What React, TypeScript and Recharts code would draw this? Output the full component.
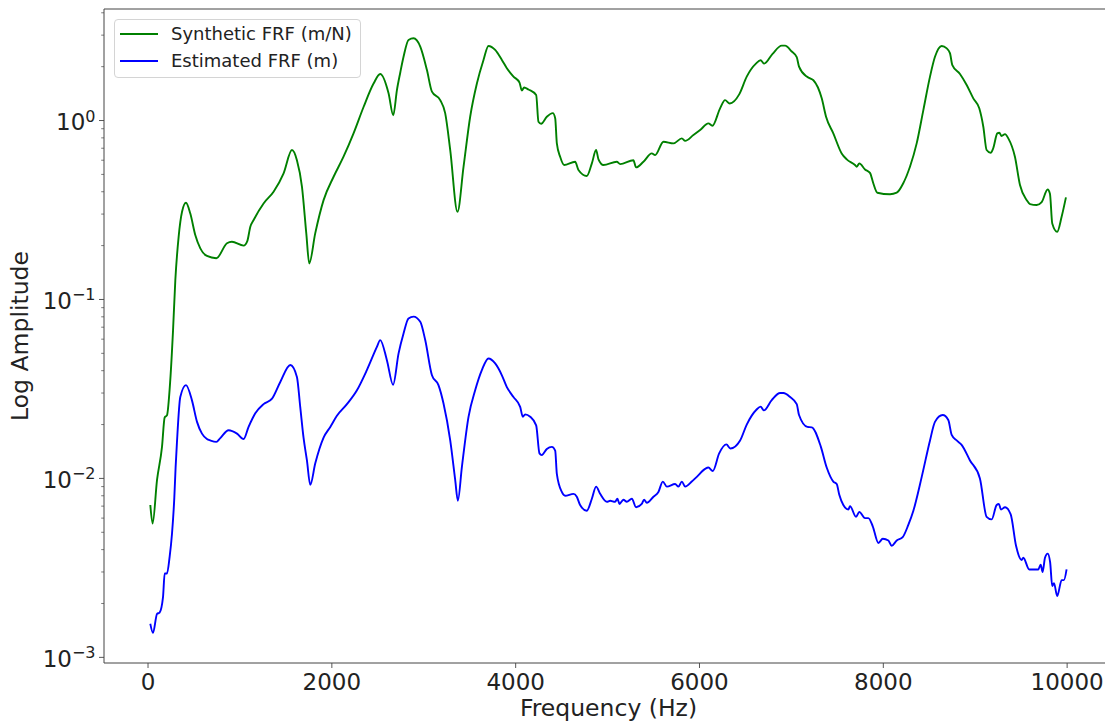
import React from "react";
import { LineChart, Line, XAxis, YAxis, Legend, ReferenceLine } from "recharts";

const FONT = "DejaVu Sans, sans-serif";
const INK = "#222";
const SPINE = "#444";

// Synthetic FRF (m/N)
const synthFreq = [
  25, 50, 98, 152, 181, 206, 242, 272, 297, 333, 370, 413, 460, 514, 569, 641, 743, 859, 913, 1040,
  1080, 1113, 1149, 1257, 1366, 1475, 1566, 1620, 1675, 1722, 1754, 1819, 1910, 2019, 2127, 2236, 2345, 2454, 2526, 2617,
  2668, 2708, 2744, 2780, 2834, 2889, 2962, 3034, 3089, 3179, 3233, 3288, 3367, 3433, 3505, 3578, 3650, 3704, 3777, 3850,
  3904, 3976, 4042, 4067, 4092, 4140, 4223, 4248, 4277, 4339, 4404, 4430, 4448, 4484, 4527, 4647, 4683, 4774, 4829, 4875,
  4901, 4955, 5100, 5137, 5281, 5310, 5390, 5481, 5517, 5608, 5717, 5808, 5844, 5934, 6007, 6097, 6140, 6224, 6278, 6329,
  6432, 6514, 6614, 6665, 6704, 6795, 6895, 6931, 7004, 7058, 7083, 7167, 7203, 7239, 7330, 7377, 7456, 7547, 7602, 7692,
  7711, 7739, 7801, 7855, 7891, 7935, 8073, 8146, 8217, 8290, 8363, 8435, 8508, 8562, 8635, 8690, 8725, 8751, 8834, 8907,
  8979, 9044, 9088, 9124, 9168, 9196, 9240, 9262, 9287, 9324, 9360, 9432, 9487, 9560, 9596, 9668, 9723, 9788, 9813, 9838,
  9892, 9940, 9987,
];
const synthAmp = [
  0.0071, 0.0056, 0.0098, 0.015, 0.0219, 0.0225, 0.0354, 0.067, 0.128, 0.224, 0.309, 0.347, 0.302, 0.229, 0.193, 0.175, 0.17, 0.206, 0.21, 0.2,
  0.212, 0.255, 0.278, 0.344, 0.4, 0.507, 0.684, 0.6, 0.426, 0.234, 0.159, 0.234, 0.359, 0.485, 0.628, 0.848, 1.19, 1.61, 1.82, 1.42,
  1.07, 1.48, 1.85, 2.27, 2.82, 2.88, 2.59, 1.92, 1.45, 1.3, 1.1, 0.684, 0.309, 0.552, 1.05, 1.61, 2.18, 2.61, 2.48, 2.18,
  1.96, 1.76, 1.63, 1.47, 1.53, 1.49, 1.39, 0.985, 0.96, 1.05, 1.1, 1.03, 0.745, 0.627, 0.564, 0.588, 0.529, 0.49, 0.576, 0.684,
  0.607, 0.564, 0.588, 0.571, 0.6, 0.547, 0.588, 0.655, 0.641, 0.761, 0.745, 0.795, 0.77, 0.83, 0.885, 0.964, 0.935, 1.17, 1.3, 1.245,
  1.4, 1.76, 2.08, 2.17, 2.08, 2.36, 2.62, 2.62, 2.43, 2.26, 2.0, 1.76, 1.72, 1.68, 1.33, 1.05, 0.848, 0.655, 0.607, 0.564,
  0.552, 0.576, 0.533, 0.51, 0.446, 0.395, 0.387, 0.395, 0.446, 0.552, 0.745, 1.14, 1.76, 2.27, 2.61, 2.53, 2.38, 2.04, 1.82, 1.58,
  1.33, 1.17, 0.923, 0.684, 0.66, 0.7, 0.848, 0.855, 0.82, 0.84, 0.795, 0.627, 0.436, 0.359, 0.341, 0.337, 0.35, 0.412, 0.39, 0.266,
  0.239, 0.29, 0.372,
];

// Estimated FRF (m)
const estFreq = [
  25, 54, 98, 126, 163, 181, 206, 235, 261, 286, 300, 315, 351, 413, 478, 533, 587, 641, 678, 743,
  786, 877, 968, 1040, 1094, 1167, 1257, 1349, 1439, 1548, 1620, 1656, 1692, 1729, 1765, 1819, 1910, 1983, 2055, 2164,
  2273, 2381, 2490, 2526, 2599, 2666, 2726, 2780, 2834, 2889, 2962, 3016, 3089, 3160, 3215, 3288, 3342, 3371, 3415, 3487,
  3560, 3632, 3704, 3777, 3850, 3904, 3976, 4049, 4078, 4103, 4158, 4223, 4259, 4284, 4339, 4394, 4430, 4448, 4502, 4538,
  4629, 4665, 4701, 4774, 4829, 4875, 4919, 4992, 5028, 5082, 5107, 5129, 5172, 5209, 5264, 5310, 5372, 5397, 5427, 5499,
  5553, 5601, 5645, 5735, 5771, 5808, 5844, 5916, 5971, 6061, 6097, 6145, 6214, 6293, 6336, 6442, 6514, 6619, 6665, 6700,
  6786, 6877, 6913, 6986, 7058, 7083, 7174, 7221, 7319, 7384, 7456, 7493, 7521, 7565, 7619, 7638, 7703, 7739, 7801, 7837,
  7885, 7946, 7994, 8055, 8091, 8146, 8211, 8272, 8327, 8418, 8508, 8562, 8646, 8707, 8744, 8798, 8852, 8943, 9051, 9124,
  9179, 9233, 9258, 9280, 9324, 9386, 9444, 9505, 9523, 9588, 9632, 9686, 9712, 9733, 9759, 9788, 9815, 9838, 9857, 9892,
  9940, 9965, 9994,
];
const estAmp = [
  0.00154, 0.00137, 0.00175, 0.00178, 0.00217, 0.00294, 0.00294, 0.00364, 0.00492, 0.0078, 0.0115, 0.016, 0.0285, 0.0332, 0.0273, 0.0207, 0.0178, 0.0166, 0.0163, 0.016,
  0.0168, 0.0186, 0.0178, 0.0166, 0.0194, 0.0231, 0.026, 0.0279, 0.0346, 0.043, 0.0369, 0.0251, 0.0169, 0.0126, 0.0092, 0.0121, 0.0169, 0.0194, 0.0224, 0.026,
  0.0311, 0.0403, 0.0543, 0.0593, 0.0458, 0.0334, 0.05, 0.0646, 0.0783, 0.0802, 0.075, 0.0593, 0.0377, 0.0332, 0.0262, 0.0163, 0.0098, 0.0075, 0.0116, 0.0221,
  0.0312, 0.0403, 0.0468, 0.0439, 0.0377, 0.0324, 0.0285, 0.0251, 0.0221, 0.0228, 0.0221, 0.0198, 0.0138, 0.0135, 0.0146, 0.015, 0.0143, 0.0106, 0.0084, 0.008,
  0.0082, 0.0079, 0.0071, 0.0066, 0.0077, 0.009, 0.0082, 0.0074, 0.0075, 0.0074, 0.0077, 0.0072, 0.0076, 0.0074, 0.0077, 0.0069, 0.0072, 0.0076, 0.0073, 0.0079,
  0.0084, 0.0096, 0.009, 0.0093, 0.009, 0.0096, 0.009, 0.0096, 0.0102, 0.0113, 0.0115, 0.011, 0.0138, 0.0155, 0.0147, 0.0163, 0.02, 0.0242, 0.0252, 0.024,
  0.0274, 0.03, 0.03, 0.0285, 0.026, 0.0226, 0.0194, 0.0193, 0.0151, 0.0115, 0.0096, 0.0093, 0.0081, 0.0071, 0.0067, 0.007, 0.0061, 0.0065, 0.006, 0.006,
  0.0054, 0.00436, 0.0046, 0.0045, 0.0042, 0.0045, 0.0047, 0.0055, 0.0066, 0.0102, 0.0163, 0.0207, 0.0226, 0.0212, 0.0175, 0.0163, 0.0154, 0.0126, 0.01, 0.0061,
  0.0059, 0.0071, 0.0072, 0.0067, 0.0069, 0.0063, 0.0042, 0.0035, 0.0036, 0.0031, 0.0031, 0.0031, 0.0033, 0.003, 0.0036, 0.0038, 0.0034, 0.0025, 0.0026, 0.0022,
  0.0027, 0.0027, 0.0031,
];

const seriesNames = ["Synthetic FRF (m/N)", "Estimated FRF (m)"];
const xTicks = [0, 2000, 4000, 6000, 8000, 10000];
const yMajorTicks = [0.001, 0.01, 0.1, 1];
const yMinorTicks = [
  0.002, 0.003, 0.004, 0.005, 0.006, 0.007, 0.008, 0.009,
  0.02, 0.03, 0.04, 0.05, 0.06, 0.07, 0.08, 0.09,
  0.2, 0.3, 0.4, 0.5, 0.6, 0.7, 0.8, 0.9,
  2, 3, 4,
];

const synthData = synthFreq.map((f, i) => ({ freq: f, amp: synthAmp[i] }));
const estData = estFreq.map((f, i) => ({ freq: f, amp: estAmp[i] }));

const xDomain = [-479, 10499];
const yDomain = [0.00093, 4.2];

function XTick(props: any) {
  const { x, y, payload } = props;
  return (
    <g>
      <line x1={x} x2={x} y1={y} y2={y + 5} stroke={SPINE} strokeWidth={0.9} />
      <text x={x} y={y + 26.6} textAnchor="middle" fontFamily={FONT} fontSize={23} fill={INK}>
        {payload.value}
      </text>
    </g>
  );
}

function YTick(props: any) {
  const { x, y, payload } = props;
  const lg = Math.log10(payload.value);
  const exp = Math.round(lg);
  if (Math.abs(lg - exp) > 1e-6) {
    return <line x1={x} x2={x - 2.8} y1={y} y2={y} stroke={SPINE} strokeWidth={0.7} />;
  }
  const sup = exp < 0 ? `\u2212${-exp}` : `${exp}`;
  return (
    <g>
      <line x1={x} x2={x - 5} y1={y} y2={y} stroke={SPINE} strokeWidth={0.9} />
      <text x={x - 8.5} y={y + 9.5} textAnchor="end" fontFamily={FONT} fontSize={23} fill={INK}>
        10
        <tspan dy={-8.5} fontSize={16}>
          {sup}
        </tspan>
      </text>
    </g>
  );
}

function FrfLegend(props: any) {
  const items = [...(props.payload || [])].sort(
    (a: any, b: any) => seriesNames.indexOf(a.value) - seriesNames.indexOf(b.value)
  );
  return (
    <div
      style={{
        boxSizing: "border-box",
        width: 247,
        border: "1px solid #d4d4d4",
        borderRadius: 4,
        background: "rgba(255,255,255,0.8)",
        padding: "0 0 3px 5px",
        fontFamily: FONT,
        fontSize: 18,
        color: INK,
      }}
    >
      {items.map((it: any) => (
        <div key={it.value} style={{ display: "flex", alignItems: "center", height: 27 }}>
          <span
            style={{
              display: "inline-block",
              width: 38,
              borderTop: `2px solid ${it.color}`,
              marginRight: 13,
            }}
          />
          <span style={{ whiteSpace: "nowrap" }}>{it.value}</span>
        </div>
      ))}
    </div>
  );
}

export default function App() {
  return (
    <div style={{ position: "fixed", left: 0, top: 0, width: 1105, height: 722, overflow: "hidden", background: "#fff" }}>
      <LineChart width={1125} height={722} margin={{ top: 9, right: 12, bottom: 0, left: 0 }}>
        <XAxis
          dataKey="freq"
          type="number"
          domain={xDomain}
          ticks={xTicks}
          allowDataOverflow
          height={59}
          tickSize={0}
          tickMargin={0}
          tickLine={false}
          tick={<XTick />}
          axisLine={{ stroke: SPINE, strokeWidth: 1 }}
          label={{
            value: "Frequency (Hz)",
            position: "insideBottom",
            offset: 6,
            style: { fontFamily: FONT, fontSize: 23.5, fill: INK },
          }}
        />
        <YAxis
          type="number"
          scale="log"
          domain={yDomain}
          allowDataOverflow
          ticks={[...yMajorTicks, ...yMinorTicks]}
          interval={0}
          width={104}
          tickSize={0}
          tickMargin={0}
          tickLine={false}
          tick={<YTick />}
          axisLine={{ stroke: SPINE, strokeWidth: 1 }}
          label={{
            value: "Log Amplitude",
            angle: -90,
            position: "insideLeft",
            offset: 20,
            style: { fontFamily: FONT, fontSize: 23.5, fill: INK, textAnchor: "middle" },
          }}
        />
        <ReferenceLine y={yDomain[1]} stroke={SPINE} strokeWidth={1} ifOverflow="visible" />
        <Legend
          layout="horizontal"
          verticalAlign="middle"
          align="center"
          content={<FrfLegend />}
          wrapperStyle={{ left: 114, top: 19, width: 247, height: "auto" }}
        />
        <Line
          data={synthData}
          dataKey="amp"
          name={seriesNames[0]}
          type="monotone"
          stroke="#008000"
          strokeWidth={1.9}
          dot={false}
          isAnimationActive={false}
        />
        <Line
          data={estData}
          dataKey="amp"
          name={seriesNames[1]}
          type="monotone"
          stroke="#0000ff"
          strokeWidth={1.9}
          dot={false}
          isAnimationActive={false}
        />
      </LineChart>
    </div>
  );
}
